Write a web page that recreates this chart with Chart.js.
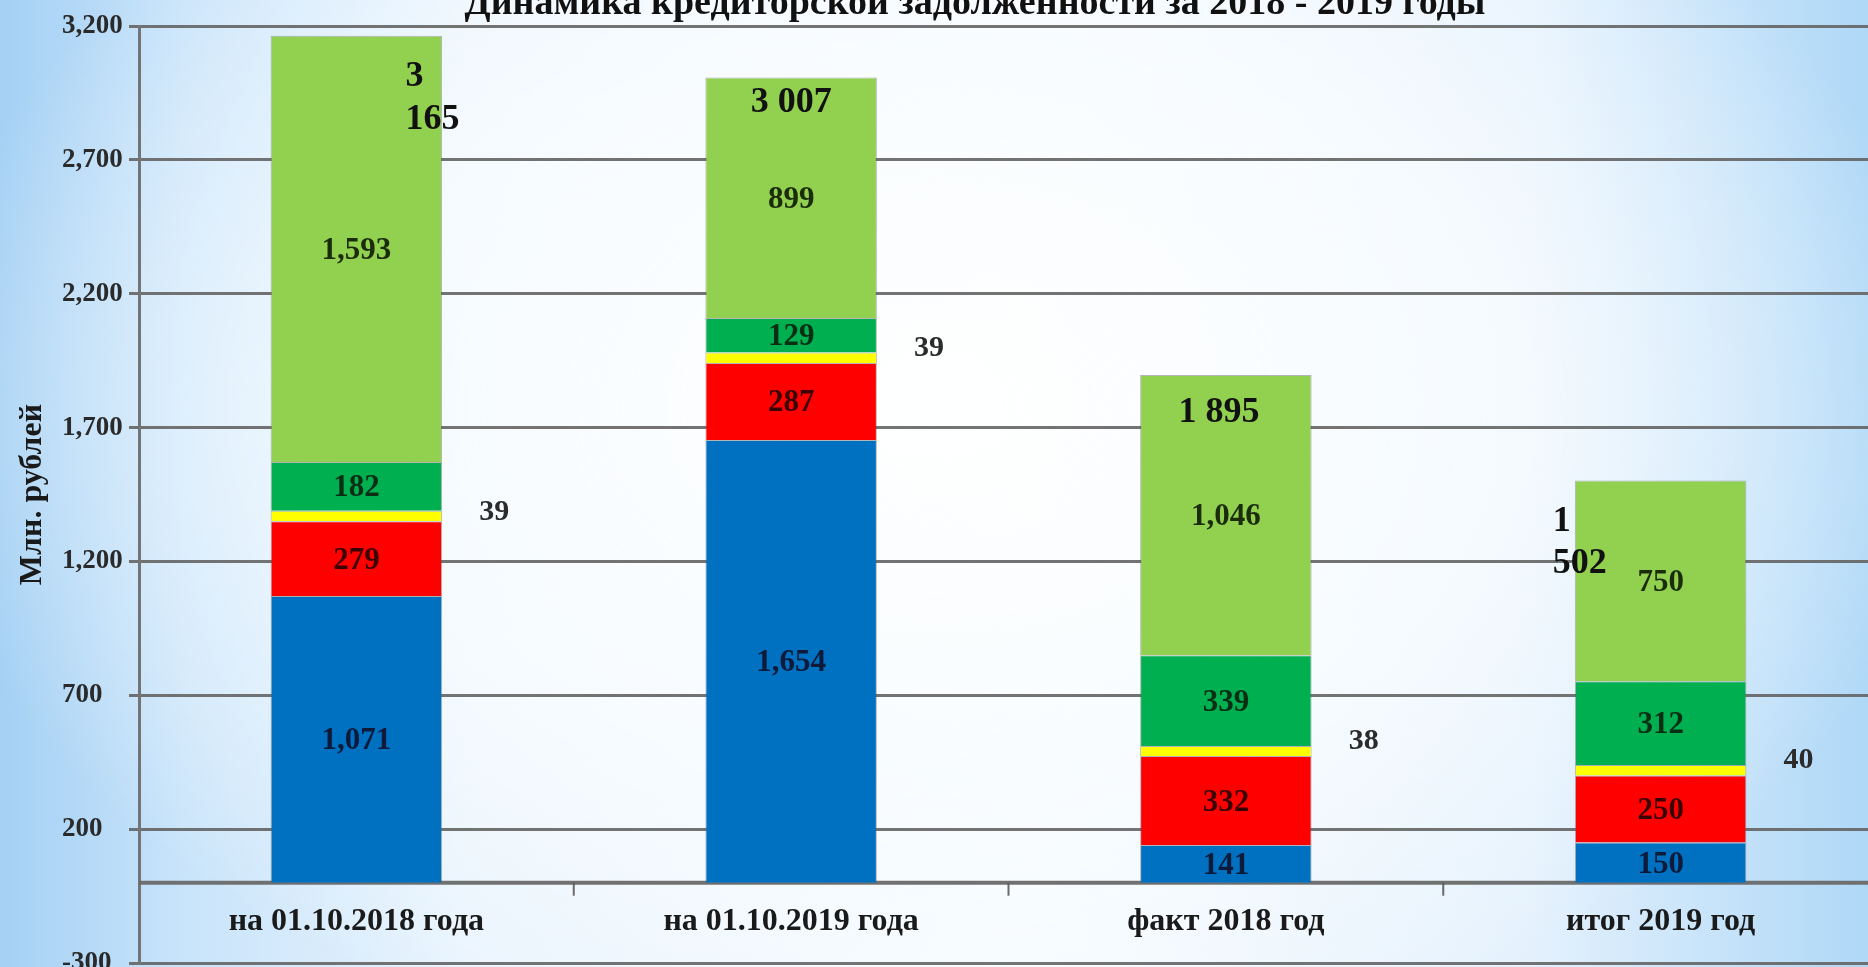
<!DOCTYPE html>
<html><head><meta charset="utf-8">
<script src="https://cdn.jsdelivr.net/npm/chart.js@4"></script>
<style>
html,body{margin:0;padding:0;width:1868px;height:967px;overflow:hidden;}
body{
  background:
    radial-gradient(ellipse 55% 70% at 50% 42%, rgba(255,255,255,0.95) 0%, rgba(250,253,255,0.75) 55%, rgba(255,255,255,0) 100%),
    linear-gradient(90deg, #a4d0f4 0%, #c9e4fa 10%, #e9f4fe 25%, #f6fbff 55%, #e4f1fd 82%, #afd8f7 100%);
}
#wrap{position:absolute;left:0;top:0;width:1880px;height:990px;}
</style></head><body><div id="wrap"><canvas id="c"></canvas></div>
<script>
// ---- data ----
const categories = ['на 01.10.2018 года', 'на 01.10.2019 года', 'факт 2018 год', 'итог 2019 год'];
const blueValues = [1071, 1654, 141, 150];
const redValues = [279, 287, 332, 250];
const yellowValues = [39, 39, 38, 40];
const darkGreenValues = [182, 129, 339, 312];
const lightGreenValues = [1593, 899, 1046, 750];
const totals = [3165, 3007, 1895, 1502];
const yMin = -300, yMax = 3200, yStep = 500;
const chartTitle = 'Динамика кредиторской задолженности за 2018 - 2019 годы';
const yTitle = 'Млн. рублей';

// ---- styling ----
const serif = '"Liberation Serif", "Times New Roman", serif';
// total label placement relative to bar centre x / bar top y (px) and line-wrapping
const totalSpec = [
  {wrap: true, align: 'left', dx: 49, dy: [41, 84]},
  {wrap: false, align: 'center', dx: 0, dy: [25]},
  {wrap: false, align: 'center', dx: -7, dy: [38]},
  {wrap: true, align: 'left', dx: -108, dy: [41, 83]}
];
const outsideDy = [-4, -10, -10, -10];

function fmtSpace(v){ return String(v).replace(/\B(?=(\d{3})+(?!\d))/g, ' '); }

const bgPlugin = {
  id: 'extras',
  beforeDatasetsDraw(chart){
    const {ctx, chartArea, scales:{x, y}} = chart;
    const y0 = y.getPixelForValue(0);
    ctx.save();
    ctx.strokeStyle = 'rgba(105,105,105,0.95)';
    ctx.lineWidth = 4;
    ctx.beginPath(); ctx.moveTo(chartArea.left, y0); ctx.lineTo(chartArea.right, y0); ctx.stroke();
    ctx.lineWidth = 2;
    ctx.strokeStyle = 'rgba(90,90,90,0.9)';
    for (let i = 0; i < categories.length - 1; i++){
      const bx = (x.getPixelForValue(i) + x.getPixelForValue(i+1)) / 2;
      ctx.beginPath(); ctx.moveTo(bx, y0); ctx.lineTo(bx, y0 + 13); ctx.stroke();
    }
    ctx.restore();
  },
  afterDatasetsDraw(chart){
    const {ctx, chartArea, scales:{x, y}} = chart;
    ctx.save();
    ctx.textAlign = 'center'; ctx.textBaseline = 'middle';
    chart.data.datasets.forEach((ds, di) => {
      const meta = chart.getDatasetMeta(di);
      meta.data.forEach((bar, i) => {
        const v = ds.data[i];
        const txt = v.toLocaleString('en-US');
        const cy = (bar.y + bar.base) / 2;
        if (ds.outsideLabel){
          ctx.font = 'bold 30px ' + serif; ctx.fillStyle = '#2b2b2b';
          ctx.textAlign = 'center';
          ctx.fillText(txt, bar.x + bar.width/2 + 52, cy + outsideDy[i]);
        } else {
          ctx.font = 'bold 31px ' + serif; ctx.fillStyle = ds.labelColor;
          ctx.textAlign = 'center';
          ctx.fillText(txt, bar.x, cy + 2);
        }
      });
    });
    // totals
    const topMeta = chart.getDatasetMeta(chart.data.datasets.length - 1);
    ctx.font = 'bold 36px ' + serif; ctx.fillStyle = '#111';
    totals.forEach((t, i) => {
      const spec = totalSpec[i];
      const bar = topMeta.data[i];
      const s = fmtSpace(t);
      const lines = spec.wrap ? [s.split(' ')[0], s.split(' ')[1]] : [s];
      ctx.textAlign = spec.align;
      lines.forEach((ln, k) => ctx.fillText(ln, bar.x + spec.dx, bar.y + spec.dy[k]));
    });
    // category labels
    const y0 = y.getPixelForValue(0);
    ctx.font = 'bold 32px ' + serif; ctx.fillStyle = '#1a1a1a'; ctx.textAlign = 'center';
    categories.forEach((c, i) => ctx.fillText(c, x.getPixelForValue(i), y0 + 39));
    // axis title
    ctx.save();
    ctx.translate(33, (chartArea.top + chartArea.bottom) / 2);
    ctx.rotate(-Math.PI/2);
    ctx.font = 'bold 32px ' + serif; ctx.fillStyle = '#1a1a1a'; ctx.textAlign = 'center';
    ctx.fillText(yTitle, 0, 0);
    ctx.restore();
    // chart title
    ctx.font = 'bold 38px ' + serif; ctx.fillStyle = '#111'; ctx.textAlign = 'center'; ctx.textBaseline = 'alphabetic';
    ctx.fillText(chartTitle, 975, 14);
    ctx.restore();
  }
};

const border = 'rgba(90,90,90,0.45)';
new Chart(document.getElementById('c'), {
  type: 'bar',
  data: {
    labels: categories,
    datasets: [
      {label: 'Ряд 1', data: blueValues, backgroundColor: '#0070C0', borderColor: border, borderWidth: 1, labelColor: '#0d1a3a'},
      {label: 'Ряд 2', data: redValues, backgroundColor: '#FF0000', borderColor: border, borderWidth: 1, labelColor: '#3a0000'},
      {label: 'Ряд 3', data: yellowValues, backgroundColor: '#FFFF00', borderColor: border, borderWidth: 1, outsideLabel: true},
      {label: 'Ряд 4', data: darkGreenValues, backgroundColor: '#00B050', borderColor: border, borderWidth: 1, labelColor: '#0a2e14'},
      {label: 'Ряд 5', data: lightGreenValues, backgroundColor: '#92D050', borderColor: border, borderWidth: 1, labelColor: '#1a2c0a'}
    ]
  },
  options: {
    responsive: true,
    maintainAspectRatio: false,
    animation: false,
    layout: {padding: {left: 62, top: 26, right: 2, bottom: 27}},
    datasets: {bar: {categoryPercentage: 1, barPercentage: 0.3945}},
    plugins: {legend: {display: false}, tooltip: {enabled: false}},
    scales: {
      x: {stacked: true, display: false, offset: true},
      y: {
        stacked: true, min: yMin, max: yMax,
        afterFit(scale){ scale.width = 139 - 62; },
        ticks: {stepSize: yStep, crossAlign: 'far', padding: 2, color: '#2a2a2a',
          font: {family: serif, size: 27, weight: 'bold'},
          callback: v => v.toLocaleString('en-US')},
        grid: {color: 'rgba(100,100,100,0.9)', lineWidth: 3, tickLength: 10, drawTicks: true},
        border: {display: true, color: 'rgba(110,110,110,0.95)', width: 3}
      }
    }
  },
  plugins: [bgPlugin]
});
</script>
</body></html>
